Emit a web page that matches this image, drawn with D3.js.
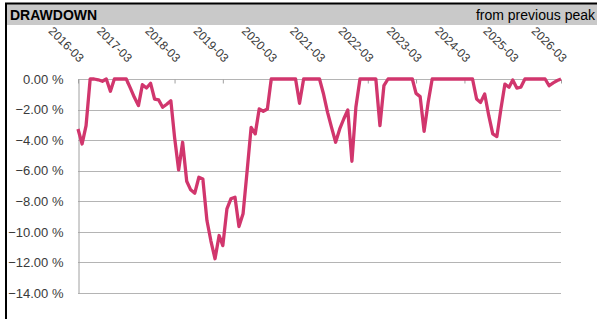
<!DOCTYPE html>
<html>
<head>
<meta charset="utf-8">
<script src="https://cdn.jsdelivr.net/npm/d3@7"></script>
<style>
  body { margin: 0; background: #fff; }
  svg { display: block; font-family: "Liberation Sans", Arial, sans-serif; }
</style>
</head>
<body>
<div id="chart"></div>
<script>
// monthly drawdown, 2016-03 .. 2026-03 (percent)
const startMonth = new Date(2016, 2, 1);
const endMonth = new Date(2026, 3, 1);
const drawdown = [
  -3.27, -4.25, -3.05, 0, 0, -0.05, -0.15, 0, -0.8, 0,
  0, 0, 0, -0.6, -1.2, -1.74, -0.37, -0.59, -0.28, -1.31,
  -1.37, -1.85, -1.65, -1.42, -3.8, -5.95, -4.14, -6.69, -7.25, -7.47,
  -6.43, -6.54, -9.26, -10.6, -11.76, -10.24, -10.9, -8.5, -7.84, -7.73,
  -9.65, -8.82, -6.0, -3.16, -3.59, -1.96, -2.11, -1.96, 0, 0,
  0, 0, 0, 0, 0, -1.59, 0, 0, 0, 0,
  0, -1.0, -2.18, -3.2, -4.14, -3.27, -2.6, -2.03, -5.38, -1.85,
  0, 0, 0, 0, 0, -3.05, -0.44, 0, 0, 0,
  0, 0, 0, 0, -0.94, -1.15, -3.42, -1.5, 0, 0,
  0, 0, 0, 0, 0, 0, 0, 0, 0, -1.31,
  -1.53, -0.98, -2.4, -3.59, -3.77, -2.0, -0.33, -0.54, -0.07, -0.59,
  -0.54, 0, 0, 0, 0, 0, 0, -0.44, -0.25, -0.1,
  0
];
const yTicks = [0, -2, -4, -6, -8, -10, -12, -14];
const title = "DRAWDOWN";
const subtitle = "from previous peak";

const width = 597;
const height = 319;
const margin = { top: 79, right: 36, bottom: 26, left: 78 };

const months = d3.timeMonth.range(startMonth, endMonth);
const data = months.map((d, i) => ({ date: d, value: drawdown[i] }));

const svg = d3.select('#chart')
  .append('svg')
  .attr('width', width)
  .attr('height', height);

// header band + frame
svg.append('rect')
  .attr('x', 6).attr('y', 4)
  .attr('width', width - 6).attr('height', 21)
  .style('fill', '#c9c9c9');
svg.append('line')
  .attr('x1', 5).attr('x2', width).attr('y1', 3.5).attr('y2', 3.5)
  .style('stroke', '#000').style('stroke-width', 2);
svg.append('line')
  .attr('x1', 6).attr('x2', 6).attr('y1', 3).attr('y2', height)
  .style('stroke', '#000').style('stroke-width', 2);

svg.append('text')
  .attr('x', 10).attr('y', 20)
  .style('font-size', '14px').style('font-weight', 'bold')
  .style('fill', '#000')
  .text(title);
svg.append('text')
  .attr('x', 595).attr('y', 20)
  .attr('text-anchor', 'end')
  .style('font-size', '14px')
  .style('fill', '#000')
  .text(subtitle);

// scales
const x = d3.scaleTime()
  .domain([startMonth, months[months.length - 1]])
  .range([margin.left, width - margin.right]);

const y = d3.scaleLinear()
  .domain([0, -14])
  .range([margin.top, height - margin.bottom]);

// gridlines
const grid = svg.append('g').attr('class', 'grid');
grid.selectAll('line')
  .data(yTicks)
  .enter()
  .append('line')
  .attr('x1', margin.left)
  .attr('x2', width - margin.right)
  .attr('y1', d => Math.round(y(d)) + 0.5)
  .attr('y2', d => Math.round(y(d)) + 0.5)
  .style('stroke', '#b4b4b4')
  .style('stroke-width', 1);

// y axis
const yAxis = svg.append('g')
  .attr('transform', `translate(${margin.left + 0.5},0)`)
  .call(d3.axisLeft(y)
    .tickValues(yTicks)
    .tickSize(0)
    .tickPadding(15)
    .tickFormat(d => d3.format('.2f')(d) + ' %'));
yAxis.select('.domain').style('stroke', '#a0a0a0');
yAxis.selectAll('text')
  .style('font-size', '13px')
  .style('fill', '#3a3a3a')
  .style('font-family', '"Liberation Sans", Arial, sans-serif');

// x axis on the zero line, labels rotated above
const yearTicks = months.filter((d, i) => i % 12 === 0);
const xAxis = svg.append('g')
  .attr('transform', `translate(0,${Math.round(y(0)) + 0.5})`)
  .call(d3.axisBottom(x)
    .tickValues(yearTicks)
    .tickSize(4)
    .tickFormat(''));
xAxis.select('.domain').remove();
xAxis.selectAll('.tick line').style('stroke', '#a0a0a0');

svg.append('g')
  .selectAll('text')
  .data(yearTicks)
  .enter()
  .append('text')
  .attr('transform', d => `translate(${x(d) + 1},63) rotate(45)`)
  .attr('text-anchor', 'end')
  .style('font-size', '12px')
  .style('fill', '#3a3a3a')
  .text(d3.timeFormat('%Y-%m'));

// drawdown line
const line = d3.line()
  .x(d => x(d.date))
  .y(d => y(d.value));

svg.append('path')
  .datum(data)
  .attr('d', line)
  .style('fill', 'none')
  .style('stroke', '#d1366d')
  .style('stroke-width', 3.3)
  .style('stroke-linejoin', 'round');
</script>
</body>
</html>
